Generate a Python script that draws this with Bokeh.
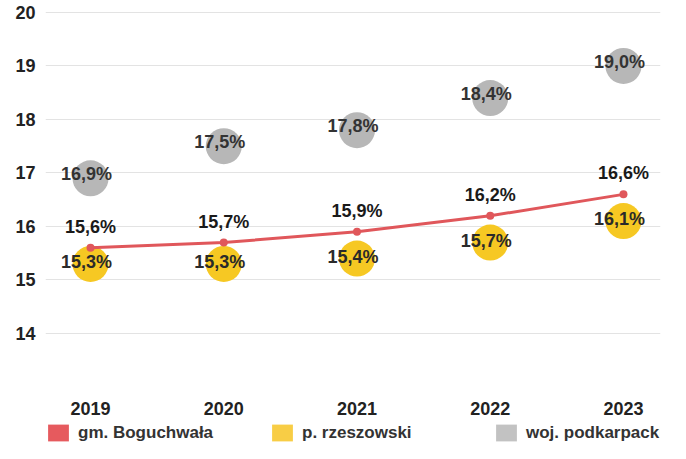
from bokeh.plotting import figure
from bokeh.layouts import column
from bokeh.models import ColumnDataSource, FixedTicker, Legend, LegendItem, Range1d
from bokeh.core.properties import value
from bokeh.embed import file_html
from bokeh.resources import INLINE

years = [2019, 2020, 2021, 2022, 2023]
gm_boguchwala = [15.6, 15.7, 15.9, 16.2, 16.6]
p_rzeszowski = [15.3, 15.3, 15.4, 15.7, 16.1]
woj_podkarpackie = [16.9, 17.5, 17.8, 18.4, 19.0]
y_ticks = [14, 15, 16, 17, 18, 19, 20]
series_names = ["gm. Boguchwała", "p. rzeszowski", "woj. podkarpackie"]
series_values = [gm_boguchwala, p_rzeszowski, woj_podkarpackie]
series_colors = ["#e0575b", "#f6c823", "#b7b7b7"]
legend_colors = ["#e65a5e", "#f8cd45", "#c2c2c2"]


def fmt(v):
    return f"{v:.1f}".replace(".", ",") + "%"


FONT = "Liberation Sans"

p = figure(width=670, height=422, output_backend="svg", toolbar_location=None,
           x_range=Range1d(2018.662, 2023.278), y_range=Range1d(12.99, 20.093),
           min_border_left=45, min_border_right=10, min_border_top=7, min_border_bottom=35)
p.outline_line_color = None
p.background_fill_color = "white"
p.border_fill_color = "white"
p.xgrid.visible = False
p.ygrid.grid_line_color = "#e3e3e3"
p.ygrid.grid_line_width = 1
p.ygrid.ticker = FixedTicker(ticks=y_ticks)
p.yaxis.ticker = FixedTicker(ticks=y_ticks)
p.xaxis.ticker = FixedTicker(ticks=years)
p.xaxis.major_label_overrides = {y: str(y) for y in years}
for ax in (p.xaxis, p.yaxis):
    ax.axis_line_color = None
    ax.major_tick_line_color = None
    ax.minor_tick_line_color = None
    ax.major_tick_out = 0
    ax.major_tick_in = 0
    ax.major_label_text_font = FONT
    ax.major_label_text_font_style = "bold"
    ax.major_label_text_font_size = "18px"
    ax.major_label_text_color = "#222222"
p.yaxis.major_label_standoff = 10
p.xaxis.major_label_standoff = 14

# series
p.scatter(years, woj_podkarpackie, size=36, fill_color=series_colors[2], line_color=None)
p.scatter(years, p_rzeszowski, size=36, fill_color=series_colors[1], line_color=None)
p.line(years, gm_boguchwala, line_color=series_colors[0], line_width=3)
p.scatter(years, gm_boguchwala, size=8, fill_color=series_colors[0], line_color=None)


# labels
def add_labels(vals, xo, yo, color):
    src = ColumnDataSource(dict(x=years, y=vals, t=[fmt(v) for v in vals]))
    p.text(x="x", y="y", text="t", source=src, x_offset=xo, y_offset=yo,
           text_align="center", text_baseline="middle",
           text_font=value(FONT), text_font_style="bold", text_font_size="18px",
           text_color=color)


add_labels(woj_podkarpackie, -4, -4, "#333333")
add_labels(p_rzeszowski, -4, -2, "#2a2a2a")
add_labels(gm_boguchwala, 0, -21, "#1a1a1a")

# legend strip (its series swatches sit outside the strip's visible range)
lg = figure(width=670, height=21, output_backend="svg", toolbar_location=None,
            x_range=Range1d(0, 1), y_range=Range1d(0, 1),
            x_axis_type=None, y_axis_type=None,
            min_border_left=0, min_border_right=0, min_border_top=0, min_border_bottom=0)
lg.outline_line_color = None
lg.grid.visible = False
proxies = []
for vals, c in zip(series_values, legend_colors):
    proxies.append(lg.rect(x=years, y=vals, width=1, height=1, fill_color=c, line_color=None))

legend = Legend(items=[LegendItem(label=n, renderers=[r]) for n, r in zip(series_names, proxies)],
                orientation="horizontal", location="bottom_left",
                glyph_width=26, glyph_height=21, label_standoff=7, label_width=145, spacing=46,
                padding=0, margin=0, border_line_color=None, background_fill_alpha=0,
                label_text_font=FONT, label_text_font_size="17px", label_text_font_style="bold",
                label_text_color="#333333")
lg.add_layout(legend)

layout = column(p, lg, spacing=0)
open("out.html", "w").write(file_html(layout, INLINE))
